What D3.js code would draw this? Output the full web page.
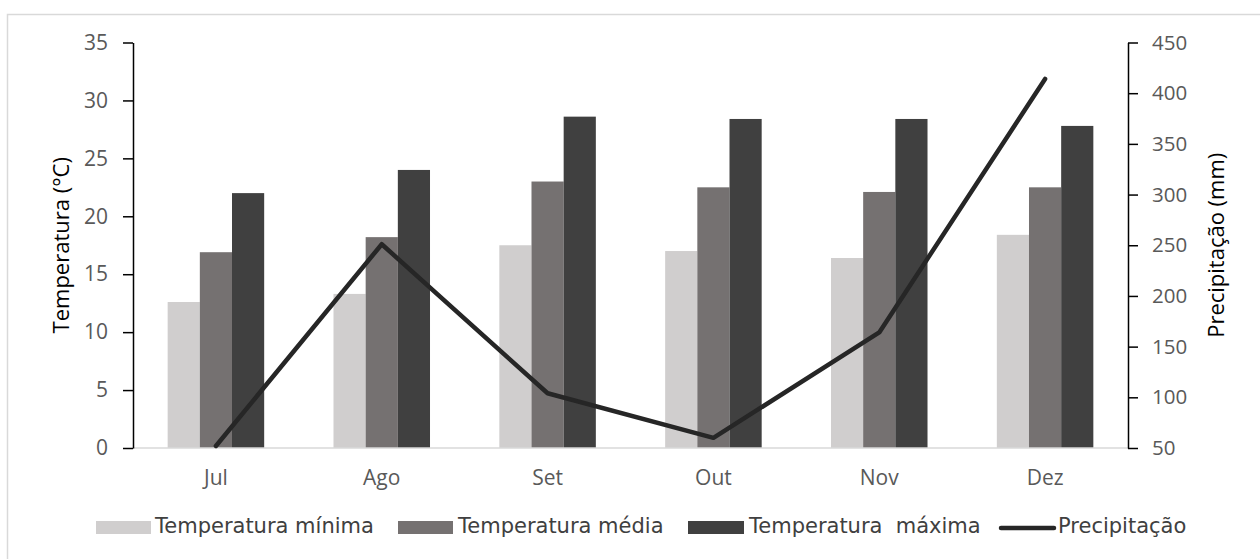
<!DOCTYPE html>
<html>
<head>
<meta charset="utf-8">
<script src="https://cdn.jsdelivr.net/npm/d3@7"></script>
<style>
  html, body { margin: 0; padding: 0; background: #fff; }
  svg { display: block; }
  text { font-family: "Open Sans", "DejaVu Sans", sans-serif; }
</style>
</head>
<body>
<svg id="chart" width="1260" height="559"></svg>
<script>
const months = ["Jul", "Ago", "Set", "Out", "Nov", "Dez"];
const tempMin = [12.6, 13.3, 17.5, 17.0, 16.4, 18.4];
const tempMed = [16.9, 18.2, 23.0, 22.5, 22.1, 22.5];
const tempMax = [22.0, 24.0, 28.6, 28.4, 28.4, 27.8];
const precip = [52, 251, 104, 60, 164, 414];
const seriesNames = ["Temperatura mínima", "Temperatura média", "Temperatura  máxima", "Precipitação"];
const leftTicks = [0, 5, 10, 15, 20, 25, 30, 35];
const rightTicks = [50, 100, 150, 200, 250, 300, 350, 400, 450];

const colors = ["#d0cece", "#757171", "#404040"];
const lineColor = "#262626";

const svg = d3.select("#chart");
const L = 133, R = 1128, T = 42.5, B = 448;
const tickFont = "Open Sans, DejaVu Sans, sans-serif";

// outer frame (top and left edges)
svg.append("path").attr("d", `M7.5,559 V14.5 H1260`).attr("fill", "none").attr("stroke", "#d9d9d9").attr("stroke-width", 1.5);

const x = d3.scaleBand().domain(months).range([L, R]).paddingInner(0.418).paddingOuter(0.209);
const keys = ["min", "med", "max"];
const xs = d3.scaleBand().domain(keys).range([0, x.bandwidth()]);
const yL = d3.scaleLinear().domain([0, 35]).range([B, T]);
const yR = d3.scaleLinear().domain([50, 450]).range([B, T]);

const data = months.map((m, i) => ({ m, min: tempMin[i], med: tempMed[i], max: tempMax[i], p: precip[i] }));

// bars
const g = svg.append("g");
data.forEach(d => {
  keys.forEach((k, j) => {
    g.append("rect")
      .attr("x", x(d.m) + xs(k))
      .attr("y", yL(d[k]))
      .attr("width", xs.bandwidth())
      .attr("height", yL(0) - yL(d[k]))
      .attr("fill", colors[j]);
  });
});

// x baseline
svg.append("line").attr("x1", L).attr("x2", R).attr("y1", B).attr("y2", B)
  .attr("stroke", "#d9d9d9").attr("stroke-width", 1.5);

// x labels
const xAxis = svg.append("g").attr("transform", `translate(0,${B})`)
  .call(d3.axisBottom(x).tickSize(0).tickPadding(22));
xAxis.select(".domain").remove();
xAxis.selectAll("text").attr("font-size", 21).attr("fill", "#595959").style("font-family", tickFont);

// left axis
const la = svg.append("g").attr("transform", `translate(${L},0)`)
  .call(d3.axisLeft(yL).tickValues(leftTicks).tickSize(10).tickSizeOuter(0).tickPadding(15));
la.select(".domain").attr("stroke", "#000").attr("stroke-width", 1.5);
la.selectAll(".tick line").attr("stroke", "#000").attr("stroke-width", 1.5);
la.selectAll("text").attr("font-size", 21).attr("fill", "#595959").style("font-family", tickFont);

// right axis
const ra = svg.append("g").attr("transform", `translate(${R},0)`)
  .call(d3.axisRight(yR).tickValues(rightTicks).tickSize(10).tickSizeOuter(0).tickPadding(14));
ra.select(".domain").attr("stroke", "#000").attr("stroke-width", 1.5);
ra.selectAll(".tick line").attr("stroke", "#000").attr("stroke-width", 1.5);
ra.selectAll("text").attr("font-size", 20.5).attr("fill", "#595959").style("font-family", tickFont);

// line
const line = d3.line().x(d => x(d.m) + x.bandwidth() / 2).y(d => yR(d.p));
svg.append("path").datum(data).attr("d", line)
  .attr("fill", "none").attr("stroke", lineColor).attr("stroke-width", 4.5)
  .attr("stroke-linejoin", "round").attr("stroke-linecap", "round");

// axis titles
svg.append("text").attr("transform", `translate(69,${(T + B) / 2}) rotate(-90)`)
  .attr("text-anchor", "middle").attr("font-size", 22).attr("fill", "#000").text("Temperatura (°C)");
svg.append("text").attr("transform", `translate(1224,${(T + B) / 2}) rotate(-90)`)
  .attr("text-anchor", "middle").attr("font-size", 22).attr("fill", "#000").text("Precipitação (mm)");

// legend
const legBase = 533;
const swX = [96, 398, 688, 999];
const swW = [55, 55, 56, 57];
const txX = [155, 458, 749, 1058];
seriesNames.forEach((name, i) => {
  if (i < 3) {
    svg.append("rect").attr("x", swX[i]).attr("y", legBase - 12).attr("width", swW[i]).attr("height", 13).attr("fill", colors[i]);
  } else {
    svg.append("line").attr("x1", swX[i] + 2).attr("x2", swX[i] + swW[i] - 2).attr("y1", legBase - 5).attr("y2", legBase - 5)
      .attr("stroke", lineColor).attr("stroke-width", 4.5).attr("stroke-linecap", "round");
  }
  svg.append("text").attr("x", txX[i]).attr("y", legBase)
    .attr("font-size", 21).attr("fill", "#404040").style("font-family", "DejaVu Sans, sans-serif")
    .attr("xml:space", "preserve").text(name);
});
</script>
</body>
</html>
